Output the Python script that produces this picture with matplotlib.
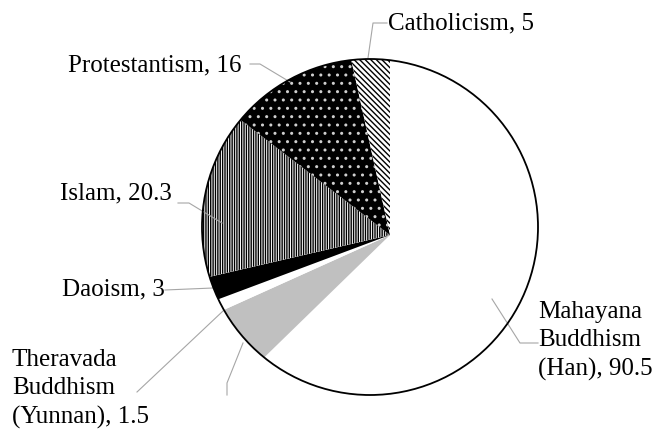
import matplotlib.pyplot as plt
from matplotlib.patches import Circle

# Religions in China (values as labelled in the chart)
religions = ['Mahayana Buddhism (Han)', 'Tibetan Buddhism', 'Theravada Buddhism (Yunnan)',
             'Daoism', 'Islam', 'Protestantism', 'Catholicism']
values = [90.5, 8, 1.5, 3, 20.3, 16, 5]
label_texts = ['Mahayana\nBuddhism\n(Han), 90.5', '', 'Theravada\nBuddhism\n(Yunnan), 1.5',
               'Daoism, 3', 'Islam, 20.3', 'Protestantism, 16', 'Catholicism, 5']

faces = ['white', '#c0c0c0', 'white', 'black', 'white', 'black', 'white']
hatch_colors = ['white', '#c0c0c0', 'white', 'black', 'black', '#cfcfcf', 'black']
hatches = [None, None, None, None, '|' * 7, '..', '\\' * 6]

W, H = 655, 430
fig = plt.figure(figsize=(6.55, 4.30), dpi=100)
ax = fig.add_axes([0, 0, 1, 1])

apex = (390, H - 235)
circ_c = (370, H - 227)
R = 168

wedges, _ = ax.pie(values, startangle=90, counterclock=False, center=apex, radius=230)
ax.set_xlim(0, W)
ax.set_ylim(0, H)
ax.set_aspect('equal')

# outer outline; the slices are clipped to it
outline = Circle(circ_c, R, fill=False, ec='black', lw=1.3, zorder=5)
ax.add_patch(outline)
for w, fc, hc, h in zip(wedges, faces, hatch_colors, hatches):
    w.set_facecolor(fc)
    w.set_edgecolor(hc)
    w.set_linewidth(0)
    if h:
        w.set_hatch(h)
    w.set_clip_on(True)
    w.set_clip_path(outline)

# leader lines (pixel coords, y from top)
leaders = [
    [(538, 343), (520, 343), (492, 299)],
    [(243, 343), (227, 383), (227, 395)],
    [(137, 392), (223, 311)],
    [(165, 290), (213, 288)],
    [(178, 203), (189, 203), (222, 223)],
    [(250, 64), (260, 64), (290, 82)],
    [(387, 23), (373, 23), (368, 58)],
]
for pts in leaders:
    ax.plot([p[0] for p in pts], [H - p[1] for p in pts], color='#a6a6a6', lw=0.8)

font = dict(family='Liberation Serif', fontsize=18, color='black')
pos = [(538, 341, 'left'), None, (12, 389, 'left'), (165, 289, 'right'),
       (172, 193, 'right'), (241, 65, 'right'), (388, 23, 'left')]
for txt, p in zip(label_texts, pos):
    if p is None or not txt:
        continue
    ax.text(p[0], H - p[1], txt, ha=p[2], va='center', linespacing=1.35, **font)

ax.axis('off')

fig.savefig('out.png', dpi=100, facecolor='white')
